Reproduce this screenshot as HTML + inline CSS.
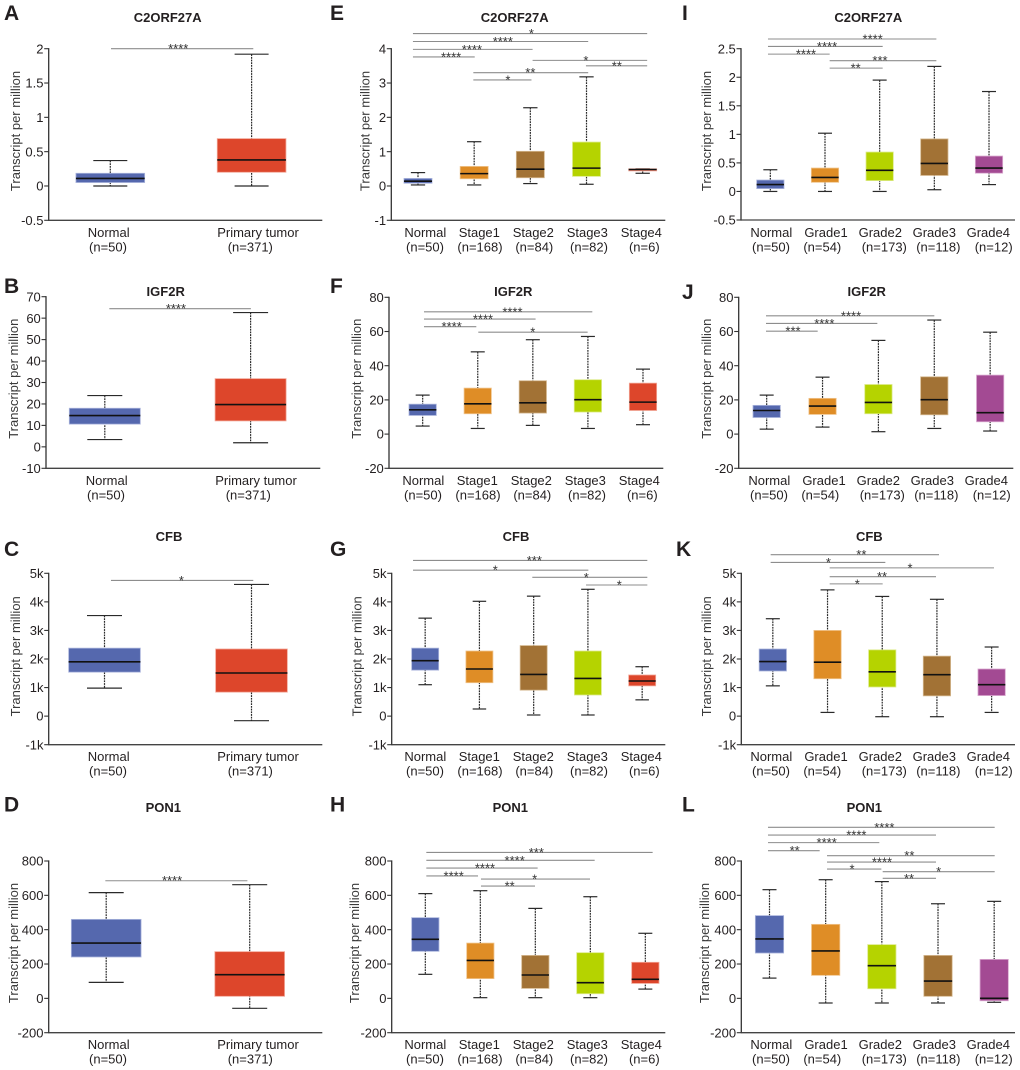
<!DOCTYPE html>
<html lang="en">
<head>
<meta charset="utf-8">
<title>Box plots of C2ORF27A, IGF2R, CFB and PON1 expression</title>
<style>
html,body{margin:0;padding:0;background:#fff;width:1020px;height:1070px;overflow:hidden}
svg{display:block;font-family:"Liberation Sans",Arial,sans-serif;fill:#231f20}
</style>
</head>
<body>
<svg id="figure" xmlns="http://www.w3.org/2000/svg" width="1020" height="1070" viewBox="0 0 1020 1070"></svg>
<script>
// ---------- shared categories ----------
const tumorCategories = ['Normal', 'Primary tumor'];
const tumorCounts = ['(n=50)', '(n=371)'];
const stageCategories = ['Normal', 'Stage1', 'Stage2', 'Stage3', 'Stage4'];
const stageCounts = ['(n=50)', '(n=168)', '(n=84)', '(n=82)', '(n=6)'];
const gradeCategories = ['Normal', 'Grade1', 'Grade2', 'Grade3', 'Grade4'];
const gradeCounts = ['(n=50)', '(n=54)', '(n=173)', '(n=118)', '(n=12)'];

// ---------- tick arrays (CFB values are in thousands) ----------
const ticksC2Tumor = [-0.5, 0, 0.5, 1, 1.5, 2];
const tickLabelsC2Tumor = ['-0.5', '0', '0.5', '1', '1.5', '2'];
const ticksC2Stage = [-1, 0, 1, 2, 3, 4];
const tickLabelsC2Stage = ['-1', '0', '1', '2', '3', '4'];
const ticksC2Grade = [-0.5, 0, 0.5, 1, 1.5, 2, 2.5];
const tickLabelsC2Grade = ['-0.5', '0', '0.5', '1', '1.5', '2', '2.5'];
const ticksIgfTumor = [-10, 0, 10, 20, 30, 40, 50, 60, 70];
const tickLabelsIgfTumor = ['-10', '0', '10', '20', '30', '40', '50', '60', '70'];
const ticksIgf = [-20, 0, 20, 40, 60, 80];
const tickLabelsIgf = ['-20', '0', '20', '40', '60', '80'];
const ticksCfb = [-1, 0, 1, 2, 3, 4, 5];
const tickLabelsCfb = ['-1k', '0', '1k', '2k', '3k', '4k', '5k'];
const ticksPon = [-200, 0, 200, 400, 600, 800];
const tickLabelsPon = ['-200', '0', '200', '400', '600', '800'];

// ---------- panel A ----------
const A_low = [0, 0];
const A_q1 = [0.05, 0.2];
const A_median = [0.11, 0.38];
const A_q3 = [0.185, 0.69];
const A_high = [0.37, 1.92];
const A_sigFrom = [0.005];
const A_sigTo = [1.012];
const A_sigLevel = [2];
const A_sigLabel = ['****'];
const A_sigLabelAt = [0.481];
// ---------- panel B ----------
const B_low = [3.4, 1.9];
const B_q1 = [10.6, 12.1];
const B_median = [14.6, 19.7];
const B_q3 = [18, 31.8];
const B_high = [23.9, 62.6];
const B_sigFrom = [0.031];
const B_sigTo = [1.002];
const B_sigLevel = [64.4];
const B_sigLabel = ['****'];
const B_sigLabelAt = [0.488];
// ---------- panel C ----------
const C_low = [0.98, -0.16];
const C_q1 = [1.54, 0.84];
const C_median = [1.9, 1.51];
const C_q3 = [2.38, 2.35];
const C_high = [3.52, 4.61];
const C_sigFrom = [0.044];
const C_sigTo = [1.012];
const C_sigLevel = [4.75];
const C_sigLabel = ['*'];
const C_sigLabelAt = [0.523];
// ---------- panel D ----------
const D_low = [93, -58];
const D_q1 = [241, 12];
const D_median = [322, 138];
const D_q3 = [460, 272];
const D_high = [616, 662];
const D_sigFrom = [-0.006];
const D_sigTo = [0.984];
const D_sigLevel = [685];
const D_sigLabel = ['****'];
const D_sigLabelAt = [0.459];
// ---------- panel E ----------
const E_low = [0.03, 0.03, 0.07, 0.05, 0.37];
const E_q1 = [0.08, 0.21, 0.24, 0.28, 0.44];
const E_median = [0.14, 0.36, 0.49, 0.52, 0.48];
const E_q3 = [0.22, 0.57, 1.01, 1.28, 0.5];
const E_high = [0.39, 1.29, 2.28, 3.18, 0.5];
const E_sigFrom = [-0.09, -0.09, -0.09, -0.09, 0.985, 0.985, 2.04, 2.99];
const E_sigTo = [1.01, 2.04, 3.03, 4.08, 2.02, 3.03, 4.08, 4.08];
const E_sigLevel = [3.76, 3.98, 4.21, 4.44, 3.09, 3.3, 3.66, 3.5];
const E_sigLabel = ['****', '****', '****', '*', '*', '**', '*', '**'];
const E_sigLabelAt = [0.59, 0.96, 1.51, 2.02, 1.6, 2, 2.99, 3.54];
// ---------- panel F ----------
const F_low = [4.7, 3.3, 5.1, 3.3, 5.5];
const F_q1 = [10.9, 11.9, 12.3, 12.9, 13.8];
const F_median = [14.2, 17.7, 18.3, 20.1, 18.7];
const F_q3 = [17.5, 26.9, 31.2, 31.8, 29.8];
const F_high = [22.8, 48.1, 55.2, 57.1, 38];
const F_sigFrom = [0.024, 0.024, 0.024, 1.01];
const F_sigTo = [0.974, 2.05, 3.08, 2.995];
const F_sigLevel = [62.8, 67.3, 71.5, 59.6];
const F_sigLabel = ['****', '****', '****', '*'];
const F_sigLabelAt = [0.526, 1.095, 1.63, 2];
// ---------- panel G ----------
const G_low = [1.1, 0.25, 0.04, 0.04, 0.57];
const G_q1 = [1.61, 1.17, 0.91, 0.74, 1.06];
const G_median = [1.94, 1.65, 1.46, 1.32, 1.23];
const G_q3 = [2.38, 2.28, 2.47, 2.28, 1.44];
const G_high = [3.43, 4.02, 4.2, 4.44, 1.73];
const G_sigFrom = [-0.224, -0.224, 1.975, 2.965];
const G_sigTo = [3.008, 4.095, 4.095, 4.095];
const G_sigLevel = [5.11, 5.45, 4.86, 4.59];
const G_sigLabel = ['*', '***', '*', '*'];
const G_sigLabelAt = [1.293, 2.012, 2.97, 3.578];
// ---------- panel H ----------
const H_low = [140, 4, 4, 4, 54];
const H_q1 = [274, 115, 58, 27, 87];
const H_median = [344, 221, 136, 91, 111];
const H_q3 = [470, 322, 250, 266, 210];
const H_high = [610, 627, 524, 592, 379];
const H_sigFrom = [0.018, 0.018, 0.018, 0.018, 1.012, 1.012];
const H_sigTo = [0.958, 2.042, 3.079, 4.133, 1.994, 2.994];
const H_sigLevel = [713, 759, 804, 850, 654, 695];
const H_sigLabel = ['****', '****', '****', '***', '**', '*'];
const H_sigLabelAt = [0.515, 1.085, 1.624, 2.018, 1.533, 1.988];
// ---------- panel I ----------
const I_low = [0, 0, 0, 0.03, 0.12];
const I_q1 = [0.05, 0.16, 0.19, 0.28, 0.32];
const I_median = [0.12, 0.245, 0.37, 0.49, 0.41];
const I_q3 = [0.2, 0.41, 0.69, 0.92, 0.62];
const I_high = [0.38, 1.02, 1.95, 2.19, 1.75];
const I_sigFrom = [-0.043, -0.043, -0.043, 1.085, 1.085];
const I_sigTo = [1.085, 2.055, 3.037, 2.055, 3.037];
const I_sigLevel = [2.405, 2.54, 2.67, 2.16, 2.29];
const I_sigLabel = ['****', '****', '****', '**', '***'];
const I_sigLabelAt = [0.652, 1.037, 1.872, 1.561, 2.006];
// ---------- panel J ----------
const J_low = [2.9, 4.1, 1.4, 3.3, 1.8];
const J_q1 = [9.7, 11.5, 11.9, 11.3, 7.2];
const J_median = [13.8, 16.4, 18.5, 20.1, 12.5];
const J_q3 = [16.8, 20.9, 29, 33.5, 34.5];
const J_high = [22.8, 33.3, 54.8, 66.7, 59.6];
const J_sigFrom = [-0.012, -0.012, -0.012];
const J_sigTo = [0.913, 1.981, 3.001];
const J_sigLevel = [60.2, 64.7, 69.2];
const J_sigLabel = ['***', '****', '****'];
const J_sigLabelAt = [0.471, 1.032, 1.51];
// ---------- panel K ----------
const K_low = [1.06, 0.13, -0.02, -0.02, 0.13];
const K_q1 = [1.58, 1.31, 1.02, 0.71, 0.72];
const K_median = [1.91, 1.89, 1.55, 1.45, 1.1];
const K_q3 = [2.35, 3, 2.32, 2.1, 1.65];
const K_high = [3.41, 4.42, 4.19, 4.09, 2.42];
const K_sigFrom = [1.039, 1.039, 1.039, -0.04, -0.04];
const K_sigTo = [2.008, 2.983, 4.043, 2.057, 3.038];
const K_sigLevel = [4.63, 4.88, 5.19, 5.38, 5.65];
const K_sigLabel = ['*', '**', '*', '*', '**'];
const K_sigLabelAt = [1.545, 1.996, 2.508, 1.015, 1.618];
// ---------- panel L ----------
const L_low = [118, -27, -27, -27, -23];
const L_q1 = [264, 134, 56, 12, -14];
const L_median = [346, 276, 190, 101, 0];
const L_q3 = [482, 431, 313, 250, 227];
const L_high = [633, 691, 680, 551, 565];
const L_sigFrom = [-0.027, -0.027, -0.027, -0.027, 1.024, 1.024, 1.024, 2.015, 2.015];
const L_sigTo = [0.893, 1.955, 2.964, 4.009, 1.991, 2.964, 4.009, 2.964, 4.009];
const L_sigLevel = [860, 907, 951, 996, 753, 794, 831, 699, 738];
const L_sigLabel = ['**', '****', '****', '****', '*', '****', '**', '**', '*'];
const L_sigLabelAt = [0.448, 1.018, 1.546, 2.045, 1.469, 2.003, 2.49, 2.484, 3.012];

// ---------- colours ----------
const BLUE = ['#5568ae', '#aab4dc'];
const ORANGE = ['#df8d26', '#f0c48c'];
const BROWN = ['#a27235', '#d4b78e'];
const LIME = ['#b5d300', '#dcea88'];
const RED = ['#dd462b', '#f2a596'];
const PURPLE = ['#a34a93', '#d9a9d0'];
const tumorFills = [BLUE, RED];
const stageFills = [BLUE, ORANGE, BROWN, LIME, RED];
const gradeFills = [BLUE, ORANGE, LIME, BROWN, PURPLE];

// ---------- panel layouts ----------
const tumorLabelLayout = {main: [108.7, 258], count: [108, 250.3]};
const stageLabelLayout = {main: [425.3, 479.3, 533.3, 587.3, 641.3], count: [425, 480, 534.3, 589, 644.3]};
const gradeLabelLayout = {main: [771.3, 826, 880.3, 934.3, 988.3], count: [771, 822.3, 884.3, 938.3, 993.7]};

const panels = [
 {id:'A',gene:'C2ORF27A',cats:tumorCategories,counts:tumorCounts,fills:tumorFills,ticks:ticksC2Tumor,tickLabels:tickLabelsC2Tumor,low:A_low,q1:A_q1,median:A_median,q3:A_q3,high:A_high,sigFrom:A_sigFrom,sigTo:A_sigTo,sigLevel:A_sigLevel,sigLabel:A_sigLabel,sigLabelAt:A_sigLabelAt,
  axisX:48.7,yTop:48.7,yBot:220.3,right:322.3,cat0:110.3,step:141.3,boxW:68.7,capW:34,labels:tumorLabelLayout,labelShift:0,labelY:237,titleX:167.7,titleY:22,letterX:4,letterY:20,yTitleX:20,yTitleC:131},
 {id:'B',gene:'IGF2R',cats:tumorCategories,counts:tumorCounts,fills:tumorFills,ticks:ticksIgfTumor,tickLabels:tickLabelsIgfTumor,low:B_low,q1:B_q1,median:B_median,q3:B_q3,high:B_high,sigFrom:B_sigFrom,sigTo:B_sigTo,sigLevel:B_sigLevel,sigLabel:B_sigLabel,sigLabelAt:B_sigLabelAt,
  axisX:46,yTop:296.7,yBot:468.3,right:320.3,cat0:104.8,step:145.8,boxW:71,capW:35,labels:tumorLabelLayout,labelShift:-2,labelY:485,titleX:165.7,titleY:296,letterX:4,letterY:293,yTitleX:18,yTitleC:378.7},
 {id:'C',gene:'CFB',cats:tumorCategories,counts:tumorCounts,fills:tumorFills,ticks:ticksCfb,tickLabels:tickLabelsCfb,low:C_low,q1:C_q1,median:C_median,q3:C_q3,high:C_high,sigFrom:C_sigFrom,sigTo:C_sigTo,sigLevel:C_sigLevel,sigLabel:C_sigLabel,sigLabelAt:C_sigLabelAt,
  axisX:48.7,yTop:573.3,yBot:744.7,right:322.3,cat0:104.5,step:147,boxW:71.7,capW:35,labels:tumorLabelLayout,labelShift:0,labelY:761,titleX:169,titleY:541,letterX:4,letterY:556,yTitleX:20,yTitleC:656.3},
 {id:'D',gene:'PON1',cats:tumorCategories,counts:tumorCounts,fills:tumorFills,ticks:ticksPon,tickLabels:tickLabelsPon,low:D_low,q1:D_q1,median:D_median,q3:D_q3,high:D_high,sigFrom:D_sigFrom,sigTo:D_sigTo,sigLevel:D_sigLevel,sigLabel:D_sigLabel,sigLabelAt:D_sigLabelAt,
  axisX:48.7,yTop:861,yBot:1032.7,right:322.3,cat0:106.2,step:143.5,boxW:69.7,capW:35,labels:tumorLabelLayout,labelShift:0,labelY:1049,titleX:163.3,titleY:812,letterX:4,letterY:811.7,yTitleX:18,yTitleC:943},
 {id:'E',gene:'C2ORF27A',cats:stageCategories,counts:stageCounts,fills:stageFills,ticks:ticksC2Stage,tickLabels:tickLabelsC2Stage,low:E_low,q1:E_q1,median:E_median,q3:E_q3,high:E_high,sigFrom:E_sigFrom,sigTo:E_sigTo,sigLevel:E_sigLevel,sigLabel:E_sigLabel,sigLabelAt:E_sigLabelAt,
  axisX:391.3,yTop:48.7,yBot:220.3,right:665.3,cat0:418,step:56.17,boxW:28,capW:14.3,labels:stageLabelLayout,labelShift:0,labelY:237,titleX:514.7,titleY:22,letterX:330,letterY:20,yTitleX:369.5,yTitleC:131},
 {id:'F',gene:'IGF2R',cats:stageCategories,counts:stageCounts,fills:stageFills,ticks:ticksIgf,tickLabels:tickLabelsIgf,low:F_low,q1:F_q1,median:F_median,q3:F_q3,high:F_high,sigFrom:F_sigFrom,sigTo:F_sigTo,sigLevel:F_sigLevel,sigLabel:F_sigLabel,sigLabelAt:F_sigLabelAt,
  axisX:389,yTop:297.3,yBot:468.3,right:663.3,cat0:422.67,step:55.08,boxW:27.3,capW:14,labels:stageLabelLayout,labelShift:-2,labelY:485,titleX:513.3,titleY:296,letterX:330,letterY:293,yTitleX:361,yTitleC:378.7},
 {id:'G',gene:'CFB',cats:stageCategories,counts:stageCounts,fills:stageFills,ticks:ticksCfb,tickLabels:tickLabelsCfb,low:G_low,q1:G_q1,median:G_median,q3:G_q3,high:G_high,sigFrom:G_sigFrom,sigTo:G_sigTo,sigLevel:G_sigLevel,sigLabel:G_sigLabel,sigLabelAt:G_sigLabelAt,
  axisX:391.7,yTop:573.3,yBot:744.7,right:665.3,cat0:425.17,step:54.25,boxW:27,capW:13.5,labels:stageLabelLayout,labelShift:0,labelY:761,titleX:516,titleY:541,letterX:330,letterY:556,yTitleX:361.7,yTitleC:656.3},
 {id:'H',gene:'PON1',cats:stageCategories,counts:stageCounts,fills:stageFills,ticks:ticksPon,tickLabels:tickLabelsPon,low:H_low,q1:H_q1,median:H_median,q3:H_q3,high:H_high,sigFrom:H_sigFrom,sigTo:H_sigTo,sigLevel:H_sigLevel,sigLabel:H_sigLabel,sigLabelAt:H_sigLabelAt,
  axisX:391.7,yTop:861,yBot:1032.7,right:665.3,cat0:425.33,step:55,boxW:27.3,capW:14,labels:stageLabelLayout,labelShift:0,labelY:1049,titleX:510.3,titleY:812,letterX:330,letterY:811.7,yTitleX:359,yTitleC:943},
 {id:'I',gene:'C2ORF27A',cats:gradeCategories,counts:gradeCounts,fills:gradeFills,ticks:ticksC2Grade,tickLabels:tickLabelsC2Grade,low:I_low,q1:I_q1,median:I_median,q3:I_q3,high:I_high,sigFrom:I_sigFrom,sigTo:I_sigTo,sigLevel:I_sigLevel,sigLabel:I_sigLabel,sigLabelAt:I_sigLabelAt,
  axisX:741,yTop:48.7,yBot:220,right:1015,cat0:770.33,step:54.67,boxW:27.3,capW:14,labels:gradeLabelLayout,labelShift:0,labelY:237,titleX:868.3,titleY:22,letterX:682,letterY:20,yTitleX:711,yTitleC:131},
 {id:'J',gene:'IGF2R',cats:gradeCategories,counts:gradeCounts,fills:gradeFills,ticks:ticksIgf,tickLabels:tickLabelsIgf,low:J_low,q1:J_q1,median:J_median,q3:J_q3,high:J_high,sigFrom:J_sigFrom,sigTo:J_sigTo,sigLevel:J_sigLevel,sigLabel:J_sigLabel,sigLabelAt:J_sigLabelAt,
  axisX:738.7,yTop:297.3,yBot:468.3,right:1013.3,cat0:766.67,step:55.87,boxW:27.3,capW:14,labels:gradeLabelLayout,labelShift:-2,labelY:485,titleX:866.7,titleY:296,letterX:682,letterY:299,yTitleX:711,yTitleC:378.7},
 {id:'K',gene:'CFB',cats:gradeCategories,counts:gradeCounts,fills:gradeFills,ticks:ticksCfb,tickLabels:tickLabelsCfb,low:K_low,q1:K_q1,median:K_median,q3:K_q3,high:K_high,sigFrom:K_sigFrom,sigTo:K_sigTo,sigLevel:K_sigLevel,sigLabel:K_sigLabel,sigLabelAt:K_sigLabelAt,
  axisX:741.3,yTop:573.3,yBot:744.7,right:1015,cat0:772.83,step:54.7,boxW:27.3,capW:14,labels:gradeLabelLayout,labelShift:0,labelY:761,titleX:869.3,titleY:541,letterX:676,letterY:556,yTitleX:711,yTitleC:656.3},
 {id:'L',gene:'PON1',cats:gradeCategories,counts:gradeCounts,fills:gradeFills,ticks:ticksPon,tickLabels:tickLabelsPon,low:L_low,q1:L_q1,median:L_median,q3:L_q3,high:L_high,sigFrom:L_sigFrom,sigTo:L_sigTo,sigLevel:L_sigLevel,sigLabel:L_sigLabel,sigLabelAt:L_sigLabelAt,
  axisX:741.3,yTop:861,yBot:1032.7,right:1015,cat0:769.5,step:56.17,boxW:28.3,capW:14,labels:gradeLabelLayout,labelShift:0,labelY:1049,titleX:864.3,titleY:812,letterX:682,letterY:811.7,yTitleX:709,yTitleC:943}
];

// ---------- drawing ----------
const NS = 'http://www.w3.org/2000/svg';
const figure = document.getElementById('figure');
function kebab(s){ return String(s).toLowerCase().replace(/[^a-z0-9]+/g, '-').replace(/^-|-$/g, ''); }
function make(parent, tag, attrs, text){
  const el = document.createElementNS(NS, tag);
  for (const k in attrs) el.setAttribute(k, attrs[k]);
  if (text !== undefined) el.textContent = text;
  parent.appendChild(el);
  return el;
}
function yAxisScale(p){
  const min = p.ticks[0], max = p.ticks[p.ticks.length - 1];
  return function(v){ return p.yTop + (max - v) / (max - min) * (p.yBot - p.yTop); };
}
function xAxisScale(p){
  return function(c){ return p.cat0 + c * p.step; };
}
function drawPanel(p){
  const y = yAxisScale(p), x = xAxisScale(p);
  const pre = 'panel-' + p.id.toLowerCase();
  const g = make(figure, 'g', {});
  
  

  const letter = make(g, 'text', {x:p.letterX, y:p.letterY, 'font-size':21, 'font-weight':'bold', fill:'#231f20'}, p.id);
  
  

  const title = make(g, 'text', {x:p.titleX, y:p.titleY, 'font-size':13, 'font-weight':'bold', 'text-anchor':'middle', fill:'#231f20'}, p.gene);
  
  

  const yTitle = make(g, 'text', {x:0, y:0, 'font-size':13, 'text-anchor':'middle', fill:'#3a3a3a', transform:'translate(' + p.yTitleX + ' ' + p.yTitleC + ') rotate(-90)'}, 'Transcript per million');
  
  

  const yAxis = make(g, 'line', {x1:p.axisX, x2:p.axisX, y1:p.yTop - 0.6, y2:p.yBot + 0.6, stroke:'#333', 'stroke-width':1.3});
  
  

  const xAxis = make(g, 'line', {x1:p.axisX, x2:p.right, y1:p.yBot, y2:p.yBot, stroke:'#444', 'stroke-width':1.3});
  
  

  p.ticks.forEach(function(t, i){
    const tick = make(g, 'line', {x1:p.axisX - 4.5, x2:p.axisX, y1:y(t), y2:y(t), stroke:'#333', 'stroke-width':1.1});
    
    
    const lab = make(g, 'text', {x:p.axisX - 5.2, y:y(t) + 4.6, 'font-size':13, 'text-anchor':'end', fill:'#231f20'}, p.tickLabels[i]);
    
    
  });

  p.cats.forEach(function(cat, i){
    const cx = x(i);
    const bg = make(g, 'g', {});
    
    

    const whisker = make(bg, 'line', {x1:cx, x2:cx, y1:y(p.high[i]), y2:y(p.low[i]), stroke:'#2a2a2a', 'stroke-width':1.2, 'stroke-dasharray':'1.8 0.9'});
    
    

    const capHigh = make(bg, 'line', {x1:cx - p.capW / 2, x2:cx + p.capW / 2, y1:y(p.high[i]), y2:y(p.high[i]), stroke:'#2a2a2a', 'stroke-width':1.2});
    
    

    const capLow = make(bg, 'line', {x1:cx - p.capW / 2, x2:cx + p.capW / 2, y1:y(p.low[i]), y2:y(p.low[i]), stroke:'#2a2a2a', 'stroke-width':1.2});
    
    

    const rect = make(bg, 'rect', {x:cx - p.boxW / 2, y:y(p.q3[i]), width:p.boxW, height:Math.max(0.5, y(p.q1[i]) - y(p.q3[i])), fill:p.fills[i][0], stroke:p.fills[i][1], 'stroke-width':0.8});
    
    

    const med = make(bg, 'line', {x1:cx - p.boxW / 2, x2:cx + p.boxW / 2, y1:y(p.median[i]), y2:y(p.median[i]), stroke:'#111', 'stroke-width':1.6});
    
    

    const lab = make(g, 'text', {x:p.labels.main[i] + p.labelShift, y:p.labelY, 'font-size':13, 'text-anchor':'middle', fill:'#231f20'}, cat);
    
    

    const cnt = make(g, 'text', {x:p.labels.count[i] + p.labelShift, y:p.labelY + 14.5, 'font-size':13, 'text-anchor':'middle', fill:'#231f20'}, p.counts[i]);
    
    
  });

  p.sigLabel.forEach(function(label, i){
    const ly = y(p.sigLevel[i]);
    const bar = make(g, 'line', {x1:x(p.sigFrom[i]), x2:x(p.sigTo[i]), y1:ly, y2:ly, stroke:'#8d8d8d', 'stroke-width':1.1});
    
    
    const star = make(g, 'text', {x:x(p.sigLabelAt[i]), y:ly + 4.5, 'font-size':13, 'text-anchor':'middle', fill:'#333'}, label);
    
    
  });
}
panels.forEach(drawPanel);
</script>
</body>
</html>
